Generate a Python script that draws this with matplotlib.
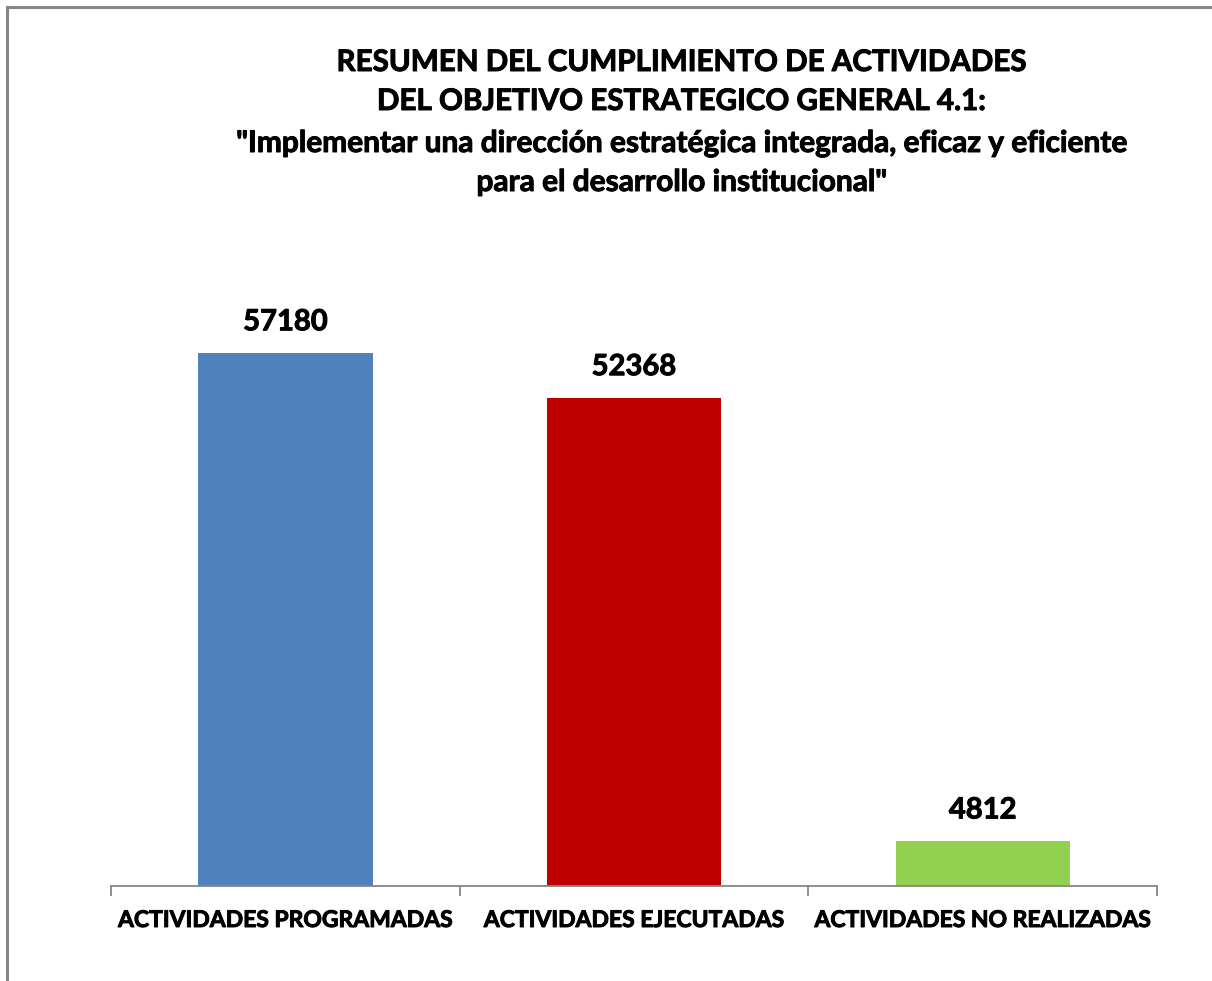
import matplotlib
matplotlib.use("Agg")
import matplotlib.pyplot as plt
import matplotlib.patheffects as pe
from matplotlib.lines import Line2D

categories = ["ACTIVIDADES PROGRAMADAS", "ACTIVIDADES EJECUTADAS", "ACTIVIDADES NO REALIZADAS"]
values = [57180, 52368, 4812]
colors = ["#4F81BD", "#C00000", "#92D050"]

W, H = 1212, 981
plt.rcParams['font.family'] = ['Lato', 'DejaVu Sans']
heavy = [pe.withStroke(linewidth=0.7, foreground="black")]

fig = plt.figure(figsize=(W / 100, H / 100), dpi=100)

# Outer chart border (only left and top edges visible in the crop)
fig.lines.append(Line2D([7 / W, 7 / W], [-0.01, 1 - 7 / H], transform=fig.transFigure,
                        color="#868686", linewidth=2.2))
fig.lines.append(Line2D([7 / W, 1.01], [1 - 7 / H, 1 - 7 / H], transform=fig.transFigure,
                        color="#868686", linewidth=2.2))

# Axes placed to match the reference plot area
ax = fig.add_axes([111 / W, 1 - 886 / H, (1157 - 111) / W, (886 - 233.5) / H])
x = range(len(categories))
bars = ax.bar(x, values, width=0.5, color=colors)
ax.set_xlim(-0.5, 2.5)
ax.set_ylim(0, 70000)

for b, v in zip(bars, values):
    ax.text(b.get_x() + b.get_width() / 2, v + 1900, str(v), ha="center", va="bottom",
            fontsize=21, fontweight="bold", path_effects=heavy)

for s in ["top", "right", "left"]:
    ax.spines[s].set_visible(False)
ax.spines["bottom"].set_color("#868686")
ax.spines["bottom"].set_linewidth(1.3)
ax.set_yticks([])
ax.set_xticks([-0.5, 0.5, 1.5, 2.5])
ax.set_xticklabels([])
ax.tick_params(axis="x", length=7, width=1.3, color="#868686")
for i, c in enumerate(categories):
    ax.text(i, -3700, c, ha="center", va="center", fontsize=16.5, fontweight="bold",
            path_effects=heavy)

cx = 682 / W
title_lines = [
    ("RESUMEN DEL CUMPLIMIENTO DE ACTIVIDADES", 62, 21.3),
    ("DEL OBJETIVO ESTRATEGICO GENERAL 4.1:", 101, 21.3),
    ("\"Implementar una dirección estratégica integrada, eficaz y eficiente", 143, 21.5),
    ("para el desarrollo institucional\"", 182, 21.5),
]
for txt, ypx, fs in title_lines:
    fig.text(cx, 1 - ypx / H, txt, ha="center", va="center", fontsize=fs,
             fontweight="bold", path_effects=heavy)

fig.savefig("out.png", dpi=100)
